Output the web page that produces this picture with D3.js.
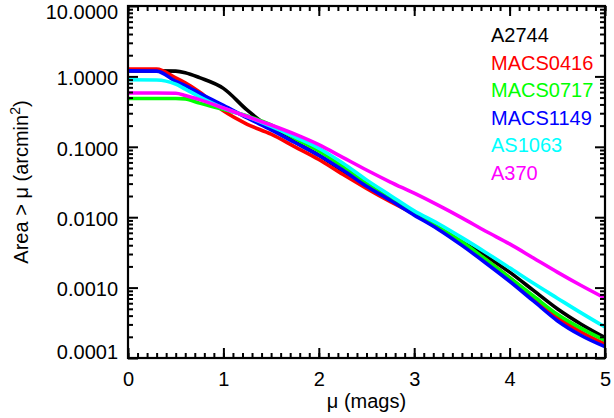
<!DOCTYPE html>
<html>
<head>
<meta charset="utf-8">
<script src="https://cdn.jsdelivr.net/npm/d3@7"></script>
<style>
  html, body { margin: 0; padding: 0; background: #fff; }
  svg { display: block; }
  text { font-family: "Liberation Sans", Arial, Helvetica, sans-serif; }
</style>
</head>
<body>
<svg id="chart" width="614" height="418"></svg>
<script>
// ---- data ----
const mu = [0, 0.3, 0.5, 0.6, 0.75, 1.0, 1.25, 1.5, 1.75, 2.0, 2.25, 2.5, 2.75, 3.0, 3.25, 3.5, 3.75, 4.0, 4.25, 4.5, 4.75, 5.0];

const A2744    = [1.20, 1.20, 1.19, 1.13, 0.96, 0.676, 0.331, 0.182, 0.117, 0.0759, 0.0457, 0.0275, 0.0174, 0.0112, 0.00708, 0.00447, 0.00282, 0.00166, 0.000912, 0.000501, 0.000302, 0.000195];
const MACS0416 = [1.27, 1.27, 0.955, 0.813, 0.603, 0.324, 0.209, 0.151, 0.100, 0.0661, 0.0407, 0.0257, 0.0166, 0.0110, 0.00692, 0.00427, 0.00251, 0.00138, 0.000724, 0.000380, 0.000234, 0.000158];
const MACS0717 = [0.486, 0.486, 0.486, 0.479, 0.417, 0.339, 0.275, 0.204, 0.132, 0.0871, 0.0525, 0.0302, 0.0182, 0.0112, 0.00724, 0.00447, 0.00251, 0.00138, 0.000759, 0.000417, 0.000263, 0.000178];
const MACS1149 = [1.20, 1.19, 0.851, 0.741, 0.575, 0.389, 0.257, 0.174, 0.115, 0.0759, 0.0468, 0.0275, 0.0174, 0.0107, 0.00676, 0.00398, 0.00224, 0.00123, 0.000646, 0.000339, 0.000209, 0.000145];
const AS1063   = [0.895, 0.891, 0.776, 0.661, 0.513, 0.355, 0.269, 0.195, 0.138, 0.0955, 0.0589, 0.0339, 0.0204, 0.0123, 0.00813, 0.00513, 0.00316, 0.00191, 0.00115, 0.000708, 0.000437, 0.000275];
const A370     = [0.58, 0.58, 0.575, 0.537, 0.468, 0.355, 0.269, 0.204, 0.151, 0.107, 0.0708, 0.0468, 0.0316, 0.0219, 0.0148, 0.00977, 0.00631, 0.00417, 0.00263, 0.00166, 0.00107, 0.000708];

const seriesNames  = ["A2744", "MACS0416", "MACS0717", "MACS1149", "AS1063", "A370"];
const seriesValues = [A2744, MACS0416, MACS0717, MACS1149, AS1063, A370];
const seriesColors = ["#000000", "#ff0000", "#00ff00", "#0000ff", "#00ffff", "#ff00ff"];

const xTicks = [0, 1, 2, 3, 4, 5];
const yTicks = [10, 1, 0.1, 0.01, 0.001, 0.0001];
const yTickLabels = ["10.0000", "1.0000", "0.1000", "0.0100", "0.0010", "0.0001"];

// ---- layout ----
const L = 128, R = 605, T = 6, B = 358;
const svg = d3.select("#chart");

const x = d3.scaleLinear().domain([0, 5]).range([L, R]);
const y = d3.scaleLog().domain([0.0001, 10]).range([B, T]);

// lines
const line = d3.line().x((d, i) => x(mu[i])).y(d => y(d)).curve(d3.curveMonotoneX);
svg.append("clipPath").attr("id", "clip").append("rect")
  .attr("x", L).attr("y", T).attr("width", R - L).attr("height", B - T);
const lg = svg.append("g").attr("clip-path", "url(#clip)");
seriesValues.forEach((vals, k) => {
  lg.append("path")
    .attr("d", line(vals))
    .attr("fill", "none")
    .attr("stroke", seriesColors[k])
    .attr("stroke-width", 3.6)
    .attr("stroke-linejoin", "round");
});

// ---- axes (IDL style box with inward ticks) ----
const fontSize = 20;
const xMinor = d3.range(0, 50.5, 1).map(v => v / 10);
const yMinor = [];
for (let e = -4; e < 1; e++) for (let m = 2; m <= 9; m++) yMinor.push(m * Math.pow(10, e));

// bottom axis
svg.append("g").attr("transform", `translate(0,${B})`)
  .call(d3.axisBottom(x).tickValues(xMinor).tickSizeInner(-5).tickSizeOuter(0).tickFormat(""));
svg.append("g").attr("transform", `translate(0,${B})`)
  .call(d3.axisBottom(x).tickValues(xTicks).tickSizeInner(-10).tickSizeOuter(0).tickPadding(14).tickFormat(d3.format("d")));
// top axis
svg.append("g").attr("transform", `translate(0,${T})`)
  .call(d3.axisTop(x).tickValues(xMinor).tickSizeInner(-5).tickSizeOuter(0).tickFormat(""));
svg.append("g").attr("transform", `translate(0,${T})`)
  .call(d3.axisTop(x).tickValues(xTicks).tickSizeInner(-10).tickSizeOuter(0).tickFormat(""));
// left axis
svg.append("g").attr("transform", `translate(${L},0)`)
  .call(d3.axisLeft(y).tickValues(yMinor).tickSizeInner(-5).tickSizeOuter(0).tickFormat(""));
const gL = svg.append("g").attr("transform", `translate(${L},0)`)
  .call(d3.axisLeft(y).tickValues(yTicks).tickSizeInner(-10).tickSizeOuter(0).tickPadding(10)
    .tickFormat((d, i) => yTickLabels[i]));
// keep the end labels inside the frame, as in the reference
gL.selectAll(".tick text").attr("dy", (d, i) => {
  if (i === 0) return "0.62em";
  if (i === yTicks.length - 1) return "0em";
  return "0.41em";
});
// right axis
svg.append("g").attr("transform", `translate(${R},0)`)
  .call(d3.axisRight(y).tickValues(yMinor).tickSizeInner(-5).tickSizeOuter(0).tickFormat(""));
svg.append("g").attr("transform", `translate(${R},0)`)
  .call(d3.axisRight(y).tickValues(yTicks).tickSizeInner(-10).tickSizeOuter(0).tickFormat(""));

svg.selectAll(".domain").remove();
svg.selectAll(".tick line").attr("stroke", "#000").attr("stroke-width", 2);
svg.selectAll(".tick text").attr("fill", "#000").style("font-size", fontSize + "px")
  .style("font-family", '"Liberation Sans", Arial, sans-serif');

// frame
svg.append("rect").attr("x", L).attr("y", T).attr("width", R - L).attr("height", B - T)
  .attr("fill", "none").attr("stroke", "#000").attr("stroke-width", 2.2);

// axis titles
svg.append("text")
  .attr("x", (L + R) / 2).attr("y", 408)
  .attr("text-anchor", "middle").style("font-size", fontSize + "px")
  .text("μ (mags)");

const yt = svg.append("text")
  .attr("transform", `translate(28,${(T + B) / 2}) rotate(-90)`)
  .attr("text-anchor", "middle").style("font-size", fontSize + "px");
yt.append("tspan").text("Area > μ (arcmin");
yt.append("tspan").attr("dy", -8).style("font-size", "14px").text("2");
yt.append("tspan").attr("dy", 8).text(")");

// legend
const leg = svg.append("g");
seriesNames.forEach((name, k) => {
  leg.append("text")
    .attr("x", 491).attr("y", 42 + k * 27.6)
    .attr("fill", seriesColors[k])
    .style("font-size", fontSize + "px")
    .text(name);
});
</script>
</body>
</html>
